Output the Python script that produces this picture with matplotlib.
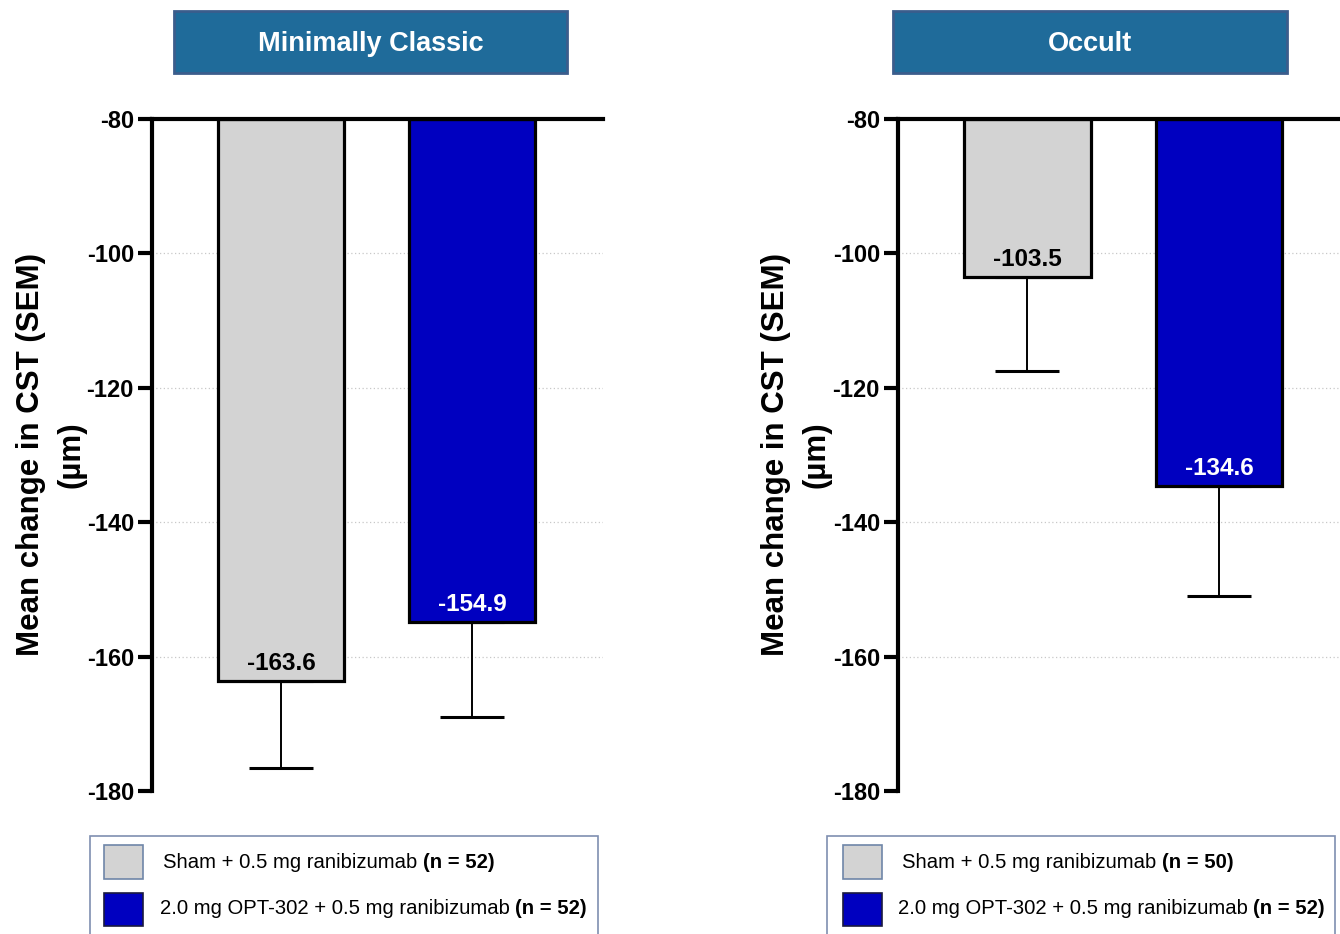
import matplotlib
matplotlib.use("Agg")
import matplotlib.pyplot as plt
from matplotlib.patches import Rectangle

# ---------------- data ----------------
panel_titles = ["Minimally Classic", "Occult"]
groups = ["Sham + 0.5 mg ranibizumab", "2.0 mg OPT-302 + 0.5 mg ranibizumab"]
n_labels = [["(n = 52)", "(n = 52)"], ["(n = 50)", "(n = 52)"]]
means = [[-163.6, -154.9], [-103.5, -134.6]]
sems = [[13.0, 14.1], [14.0, 16.4]]
yticks = [-80, -100, -120, -140, -160, -180]
ylabel = "Mean change in CST (SEM)\n(µm)"

bar_colors = ["#d3d3d3", "#0000c0"]
label_colors = ["black", "white"]

plt.rcParams['font.family'] = ['Liberation Sans', 'DejaVu Sans']

W, H = 1340, 934
fig = plt.figure(figsize=(W / 100, H / 100), dpi=100)

def fx(px):
    return px / W

def fy(py):
    return 1 - py / H

axes_px = [(152, 603), (898, 1340)]
xlims = [(-0.675, 1.686), (-0.675, 1.63)]
title_px = [(174, 567), (893, 1287)]
legend_px = [(90, 598), (827, 1335)]
patch_px = [104, 843]
text_px = [(163, 160), (902, 898)]
ylab_cx = [51.5, 796.5]

overlay = fig.add_axes([0, 0, 1, 1], zorder=-5)
overlay.set_axis_off()
overlay.set_xlim(0, 1)
overlay.set_ylim(0, 1)

for p in range(2):
    x0, x1 = axes_px[p]
    ax = fig.add_axes([fx(x0), fy(791), fx(x1 - x0), fy(119) - fy(791)])
    xs = [0, 1]
    ax.set_xlim(*xlims[p])
    ax.set_ylim(-180, -80)
    for yv in yticks[1:-1]:
        ax.axhline(yv, color="#c8c8c8", lw=0.9, ls=(0, (1, 2)), zorder=0)
    for i in range(2):
        ax.bar(xs[i], means[p][i] - (-80), bottom=-80, width=0.66,
               color=bar_colors[i], edgecolor="black", linewidth=2.3, zorder=2)
        ax.errorbar(xs[i], means[p][i], yerr=[[sems[p][i]], [0]], fmt="none",
                    ecolor="black", elinewidth=1.4, capsize=23, capthick=2.2,
                    zorder=1)
        ax.annotate(f"{means[p][i]:.1f}", xy=(xs[i], means[p][i]),
                    xytext=(0, 8), textcoords="offset points",
                    ha="center", va="baseline", fontsize=17.5, fontweight="bold",
                    color=label_colors[i], zorder=3)
    for s in ["right", "bottom"]:
        ax.spines[s].set_visible(False)
    ax.spines["left"].set_linewidth(3)
    ax.spines["top"].set_linewidth(3)
    ax.spines["left"].set_capstyle("projecting")
    ax.spines["top"].set_capstyle("projecting")
    ax.set_xticks([])
    ax.set_yticks(yticks)
    ax.set_yticklabels([str(t) for t in yticks], fontsize=17, fontweight="bold")
    ax.tick_params(axis="y", length=10, width=3, pad=3)
    axw = x1 - x0
    ax.text((ylab_cx[p] - x0) / axw, 0.5, ylabel, transform=ax.transAxes, rotation=90,
            ha="center", va="center", multialignment="center",
            fontsize=22.5, fontweight="bold", linespacing=1.45)

    # title box
    tx0, tx1 = title_px[p]
    overlay.add_patch(Rectangle((fx(tx0), fy(73)), fx(tx1 - tx0), fy(11) - fy(73),
                                facecolor="#1f6b9a", edgecolor="#3b5d8c", lw=2,
                                transform=fig.transFigure, clip_on=False))
    overlay.text(fx((tx0 + tx1) / 2), fy(44), panel_titles[p], color="white",
                 fontsize=19.5, fontweight="bold", ha="center", va="center",
                 transform=fig.transFigure)

    # legend
    lx0, lx1 = legend_px[p]
    overlay.add_patch(Rectangle((fx(lx0), -0.05), fx(lx1 - lx0), fy(836) + 0.05,
                                facecolor="white", edgecolor="#7f8fb0", lw=1.2,
                                transform=fig.transFigure, clip_on=False))
    rows = [(845, 879, 862), (893, 926, 909)]
    edges = ["#6f86a8", "#1a1a40"]
    for i in range(2):
        top, bot, cy = rows[i]
        overlay.add_patch(Rectangle((fx(patch_px[p]), fy(bot)), fx(39), fy(top) - fy(bot),
                                    facecolor=bar_colors[i], edgecolor=edges[i], lw=1.2,
                                    transform=fig.transFigure, clip_on=False))
        t1 = overlay.text(fx(text_px[p][i]), fy(cy), groups[i], fontsize=14.6,
                          ha="left", va="center", transform=fig.transFigure)
        overlay.annotate(n_labels[p][i], xy=(1, 0), xycoords=t1,
                         xytext=(4, 0), textcoords="offset points",
                         ha="left", va="bottom", fontsize=14.6, fontweight="bold")

fig.savefig("out.png", dpi=100)
